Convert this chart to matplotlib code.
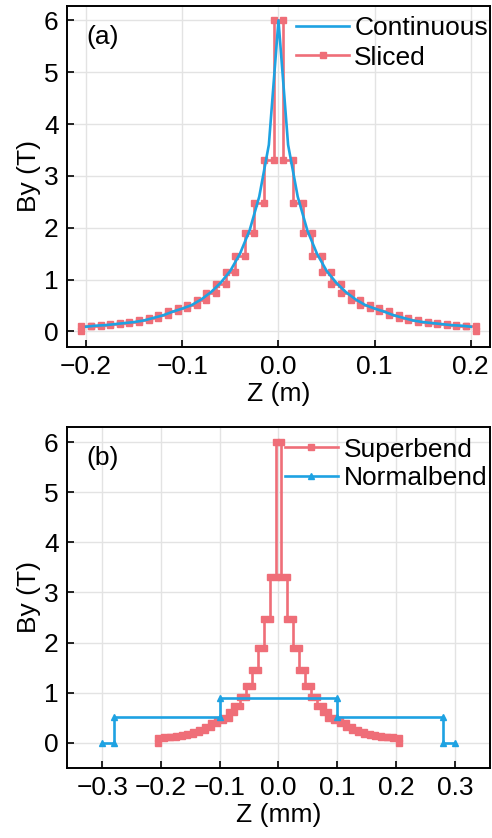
import numpy as np
import matplotlib
matplotlib.use("Agg")
import matplotlib.pyplot as plt

plt.rcParams['font.family'] = ['Liberation Sans', 'DejaVu Sans']

# field, positive side only (profile is symmetric)
z_half = [0.00, 0.01, 0.02, 0.03, 0.04, 0.05, 0.06, 0.07, 0.08, 0.09, 0.10,
          0.11, 0.12, 0.13, 0.14, 0.15, 0.16, 0.17, 0.18, 0.19, 0.20]
b_cont_half = [6.0, 3.6, 2.6, 1.95, 1.5, 1.17, 0.94, 0.76, 0.62, 0.51, 0.44,
               0.38, 0.31, 0.26, 0.21, 0.18, 0.16, 0.14, 0.12, 0.11, 0.09]
b_slice_half = [6.0, 3.31, 2.48, 1.90, 1.46, 1.14, 0.92, 0.74, 0.61, 0.50, 0.45,
                0.39, 0.32, 0.26, 0.21, 0.18, 0.16, 0.14, 0.12, 0.11, 0.10]
slice_width = 0.01

# normal bend (hard edge model)
z_normal = [-0.30, -0.28, -0.28, -0.10, -0.10, 0.10, 0.10, 0.28, 0.28, 0.30]
b_normal = [0.0, 0.0, 0.52, 0.52, 0.9, 0.9, 0.52, 0.52, 0.0, 0.0]

blue = '#1ea2e2'
red = '#ef6e78'


def full(z, b):
    z = np.array(z)
    b = np.array(b)
    return np.concatenate([-z[:0:-1], z]), np.concatenate([b[:0:-1], b])


def staircase(zc, bc, w):
    xs, ys = [zc[0] - w / 2], [0.0]
    for c, v in zip(zc, bc):
        xs += [c - w / 2, c + w / 2]
        ys += [v, v]
    xs.append(zc[-1] + w / 2)
    ys.append(0.0)
    return np.array(xs), np.array(ys)


zc, bcont = full(z_half, b_cont_half)
_, bsl = full(z_half, b_slice_half)
xs, ys = staircase(zc, bsl, slice_width)

fig = plt.figure(figsize=(4.92, 8.38), dpi=100)
ax1 = fig.add_axes([0.136, 0.586, 0.86, 0.407])
ax2 = fig.add_axes([0.136, 0.0835, 0.86, 0.407])

fs = 19

ax1.plot(zc, bcont, '-', color=blue, lw=1.9, label='Continuous', zorder=3)
ax1.plot(xs, ys, '-s', color=red, lw=1.9, ms=4.2, label='Sliced', zorder=2)
ax1.set_xlim(-0.22, 0.22)
ax1.set_ylim(-0.3, 6.28)
ax1.set_xticks([-0.2, -0.1, 0.0, 0.1, 0.2])
ax1.set_xlabel('Z (m)', fontsize=fs, labelpad=2)
ax1.text(0.045, 0.945, '(a)', transform=ax1.transAxes, fontsize=fs, va='top')
ax1.legend(loc='upper right', bbox_to_anchor=(1.02, 1.0), frameon=False,
           fontsize=fs, handlelength=2.0, handletextpad=0.2, labelspacing=0.2,
           borderaxespad=0)

ax2.plot(xs, ys, '-s', color=red, lw=1.9, ms=4.2, label='Superbend', zorder=2)
ax2.plot(z_normal, b_normal, '-^', color=blue, lw=1.9, ms=4.2, label='Normalbend', zorder=3)
ax2.set_xlim(-0.36, 0.36)
ax2.set_ylim(-0.5, 6.3)
ax2.set_xticks([-0.3, -0.2, -0.1, 0.0, 0.1, 0.2, 0.3])
ax2.set_xlabel('Z (mm)', fontsize=fs, labelpad=2)
ax2.text(0.045, 0.945, '(b)', transform=ax2.transAxes, fontsize=fs, va='top')
ax2.legend(loc='upper right', bbox_to_anchor=(1.02, 1.0), frameon=False,
           fontsize=fs, handlelength=2.0, handletextpad=0.25, labelspacing=0.16,
           borderaxespad=0)

for ax in (ax1, ax2):
    ax.set_yticks([0, 1, 2, 3, 4, 5, 6])
    ax.set_ylabel('By (T)', fontsize=fs, labelpad=2)
    ax.tick_params(direction='in', length=5, width=1.2, labelsize=fs, pad=6)
    ax.grid(True, color='#e3e3e3', lw=1)
    ax.set_axisbelow(True)
    for s in ax.spines.values():
        s.set_linewidth(1.4)

fig.savefig('out.png', dpi=100)
